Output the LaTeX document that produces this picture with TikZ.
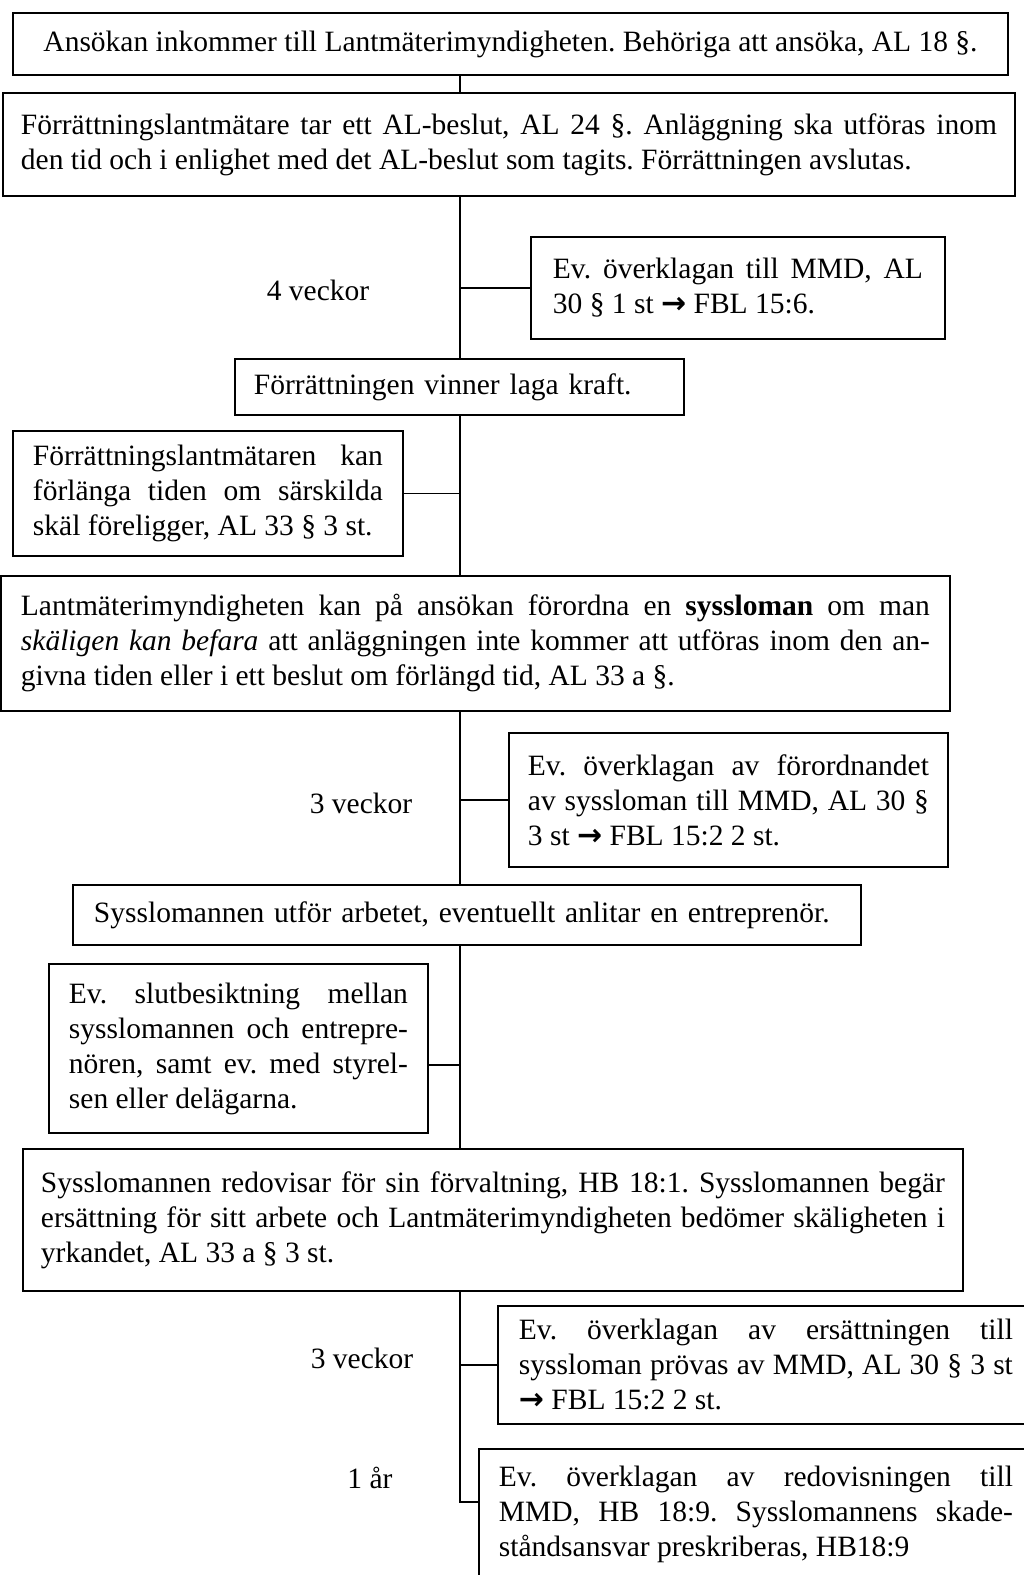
\documentclass[tikz,border=0pt]{standalone}
\usepackage{fontspec}
\setmainfont{Liberation Serif}
\newfontfamily\arrfont{DejaVu Sans}
\newcommand\arr{{\arrfont\bfseries\fontsize{30}{35}\selectfont →}}
% one full, stretched line of a justified paragraph
\newcommand\jline[1]{\leavevmode\hbox to\hsize{#1}\par}
\newcommand\bodysize{\fontsize{29.5}{35}\selectfont\frenchspacing}

\tikzset{
  box/.style={draw, line width=1.9pt, fill=white, anchor=north west,
              inner ysep=0pt, align=justify, font=\bodysize},
  trunkline/.style={line width=1.5pt},
  sideline/.style={line width=1.9pt},
  lbl/.style={font=\bodysize, inner sep=0pt}
}

\begin{document}
\begin{tikzpicture}[x=1pt, y=-1pt]
\useasboundingbox (0,0) rectangle (1024,1575);

% x position of the main vertical line
\coordinate (tx) at (460,0);

% main sequence and side boxes
\node[box, align=center, inner xsep=0pt, minimum width=995pt, minimum height=62pt] (b1) at (12,12)
  {Ansökan inkommer till Lantmäterimyndigheten. Behöriga att ansöka, AL 18 §.};

\node[box, inner xsep=18pt, text width=976pt, minimum height=103pt] (b2) at (2,92)
  {\jline{Förrättningslantmätare tar ett AL-beslut, AL 24 §. Anläggning ska utföras inom}
   den tid och i enlighet med det AL-beslut som tagits. Förrättningen avslutas.};

\node[box, inner xsep=22pt, text width=370pt, minimum height=102pt] (b3) at (530,236)
  {\jline{Ev. överklagan till MMD, AL}
   30 § 1 st \arr{} FBL 15:6.};

\node[box, align=left, inner xsep=19pt, text width=411pt, minimum height=56pt] (b4) at (234,358)
  {Förrättningen vinner laga kraft.};

\node[box, inner xsep=20pt, text width=350pt, minimum height=125pt] (b5) at (12,430)
  {\jline{Förrättningslantmätaren kan}
   \jline{förlänga tiden om särskilda}
   skäl föreligger, AL 33 § 3 st.};

\node[box, inner xsep=20pt, text width=909pt, minimum height=135pt] (b6) at (0,575)
  {\jline{Lantmäterimyndigheten kan på ansökan förordna en \textbf{syssloman} om man}
   \jline{\textit{skäligen kan befara} att anläggningen inte kommer att utföras inom den an-}
   givna tiden eller i ett beslut om förlängd tid, AL 33 a §.};

\node[box, inner xsep=19pt, text width=401pt, minimum height=134pt] (b7) at (508,732)
  {\jline{Ev. överklagan av förordnandet}
   \jline{av syssloman till MMD, AL 30 §}
   3 st \arr{} FBL 15:2 2 st.};

\node[box, align=left, inner xsep=21pt, text width=746pt, minimum height=60pt] (b8) at (72,884)
  {Sysslomannen utför arbetet, eventuellt anlitar en entreprenör.};

\node[box, inner xsep=20pt, text width=339pt, minimum height=169pt] (b9) at (48,963)
  {\jline{Ev. slutbesiktning mellan}
   \jline{sysslomannen och entrepre-}
   \jline{nören, samt ev. med styrel-}
   sen eller delägarna.};

\node[box, inner xsep=18pt, text width=904pt, minimum height=142pt] (b10) at (22,1148)
  {\jline{Sysslomannen redovisar för sin förvaltning, HB 18:1. Sysslomannen begär}
   \jline{ersättning för sitt arbete och Lantmäterimyndigheten bedömer skäligheten i}
   yrkandet, AL 33 a § 3 st.};

\node[box, inner xsep=21pt, text width=494pt, minimum height=118pt] (b11) at (497,1305)
  {\jline{Ev. överklagan av ersättningen till}
   \jline{syssloman prövas av MMD, AL 30 § 3 st}
   \arr{} FBL 15:2 2 st.};

\node[box, inner xsep=20pt, text width=514pt, minimum height=130pt] (b12) at (478,1448)
  {\jline{Ev. överklagan av redovisningen till}
   \jline{MMD, HB 18:9. Sysslomannens skade-}
   ståndsansvar preskriberas, HB18:9};

% time limits
\node[lbl] (l1) at (318,290) {4 veckor};
\node[lbl] (l2) at (361,803) {3 veckor};
\node[lbl] (l3) at (362,1358) {3 veckor};
\node[lbl] (l4) at (370,1478) {1 år};

% connector heights
\coordinate (c9) at (0,1065);
\coordinate (c12) at (0,1502);

% main vertical line, box to box
\draw[trunkline] (b1.south -| tx) -- (b2.north -| tx);
\draw[trunkline] (b2.south -| tx) -- (b4.north -| tx);
\draw[trunkline] (b4.south -| tx) -- (b6.north -| tx);
\draw[trunkline] (b6.south -| tx) -- (b8.north -| tx);
\draw[trunkline] (b8.south -| tx) -- (b10.north -| tx);
\draw[trunkline] (b10.south -| tx) -- (tx |- c12) -- (b12.west |- c12);

% side branches
\draw[sideline] (tx |- b3.west) -- (b3.west);
\draw[sideline] (b5.east) -- (tx |- b5.east);
\draw[sideline] (tx |- b7.west) -- (b7.west);
\draw[sideline] (b9.east |- c9) -- (tx |- c9);
\draw[sideline] (tx |- b11.west) -- (b11.west);
\end{tikzpicture}
\end{document}
